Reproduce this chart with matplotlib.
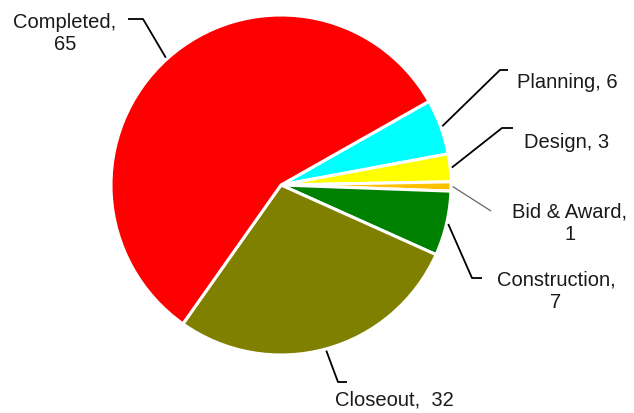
import numpy as np
import matplotlib
matplotlib.use('Agg')
import matplotlib.pyplot as plt

# slices, clockwise from the upper right
phases = ['Planning', 'Design', 'Bid & Award', 'Construction', 'Closeout', 'Completed']
counts = [6, 3, 1, 7, 32, 65]
colors = ['#00ffff', '#ffff00', '#ffc000', '#008000', '#808000', '#ff0000']
label_text = ['Planning, 6', 'Design, 3', 'Bid & Award,\n1', 'Construction,\n7',
              'Closeout,  32', 'Completed,\n65']

W, H = 634, 413
CX, CY, R = 281, 185, 170   # pixel coords, y down


def up(y):
    return H - y


# leader layout: elbow, end of line, text anchor, alignment (pixel coords, y down)
leaders = {
    'Planning':     dict(elbow=(500, 70),  end=(508, 70),  txt=(517, 83),  ha='left'),
    'Design':       dict(elbow=(502, 128), end=(513, 128), txt=(524, 142), ha='left'),
    'Bid & Award':  dict(elbow=None,       end=(491, 211), txt=(570, 223), ha='center'),
    'Construction': dict(elbow=(472, 278), end=(482, 278), txt=(556, 291), ha='center'),
    'Closeout':     dict(elbow=(338, 382), end=(347, 382), txt=(335, 400), ha='left'),
    'Completed':    dict(elbow=(143, 19),  end=(128, 19),  txt=(65, 33),   ha='center'),
}

plt.rcParams['font.family'] = ['Liberation Sans', 'DejaVu Sans']

fig = plt.figure(figsize=(W / 100, H / 100), dpi=100)
ax = fig.add_axes([0, 0, 1, 1])

wedges, _ = ax.pie(counts, colors=colors, startangle=29.5, counterclock=False,
                   center=(CX, up(CY)), radius=R,
                   wedgeprops=dict(edgecolor='white', linewidth=2.2))
ax.set_xlim(0, W)
ax.set_ylim(0, H)
ax.set_aspect('equal')
ax.axis('off')

for w, name, txt in zip(wedges, phases, label_text):
    mid = np.deg2rad((w.theta1 + w.theta2) / 2)
    x0 = CX + R * 1.01 * np.cos(mid)
    y0 = up(CY) + R * 1.01 * np.sin(mid)
    lay = leaders[name]
    xs, ys = [x0], [y0]
    if lay['elbow'] is not None:
        xs.append(lay['elbow'][0]); ys.append(up(lay['elbow'][1]))
    xs.append(lay['end'][0]); ys.append(up(lay['end'][1]))
    if name == 'Bid & Award':
        ax.plot(xs, ys, color='#666666', lw=0.9, solid_capstyle='butt')
    else:
        ax.plot(xs, ys, color='black', lw=1.3, solid_capstyle='butt')
    ax.text(lay['txt'][0], up(lay['txt'][1]), txt, ha=lay['ha'], va='center',
            fontsize=14.5, color='#1a1a1a', multialignment='center', linespacing=1.2)

fig.savefig('out.png', dpi=100, facecolor='white')
